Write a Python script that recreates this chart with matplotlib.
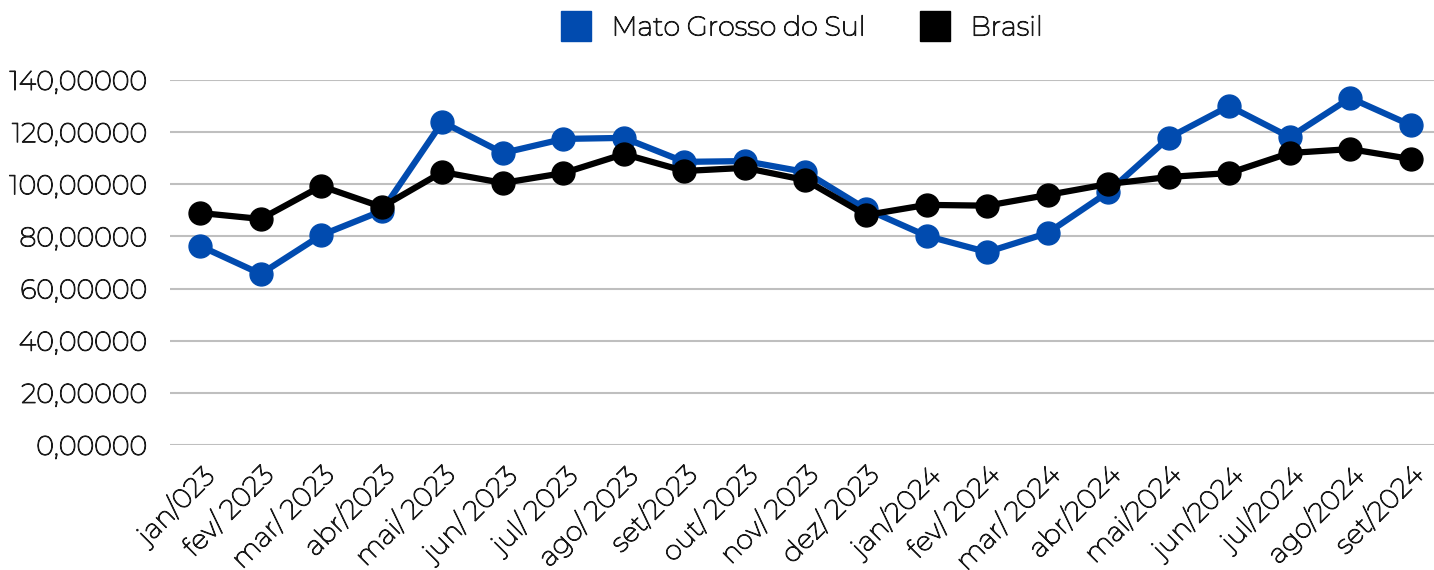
import matplotlib.pyplot as plt
import matplotlib.patheffects as pe
from matplotlib.ticker import FuncFormatter
from matplotlib.lines import Line2D

# Montserrat here is a variable font that renders thin, so thicken strokes a bit
plt.rcParams['font.family'] = ['Montserrat', 'Open Sans', 'DejaVu Sans']
engrossar = [pe.withStroke(linewidth=0.8, foreground='#1a1a1a')]

meses = ['jan/023', 'fev/ 2023', 'mar/ 2023', 'abr/2023', 'mai/ 2023', 'jun/ 2023',
         'jul/ 2023', 'ago/ 2023', 'set/2023', 'out/ 2023', 'nov/ 2023', 'dez/ 2023',
         'jan/2024', 'fev/ 2024', 'mar/ 2024', 'abr/2024', 'mai/2024', 'jun/2024',
         'jul/2024', 'ago/2024', 'set/2024']

ms = [76.3, 65.6, 80.5, 89.8, 123.9, 112.0, 117.4, 117.8, 108.6, 108.9, 104.7,
      90.5, 80.2, 74.0, 81.3, 97.0, 117.8, 130.0, 118.1, 133.1, 122.7]

brasil = [89.0, 86.7, 99.3, 91.3, 104.7, 100.5, 104.3, 111.6, 105.1, 106.3, 101.6,
          88.2, 92.1, 91.8, 95.9, 100.1, 102.8, 104.3, 112.0, 113.5, 109.7]

azul = '#014BAF'

fig = plt.figure(figsize=(14.34, 5.70), dpi=100)
ax = fig.add_axes([170 / 1434, 1 - 445 / 570, 1271 / 1434, 365 / 570])

x = list(range(len(meses)))
ax.plot(x, ms, color=azul, lw=4.5, marker='o', ms=16.5, label='Mato Grosso do Sul', zorder=3)
ax.plot(x, brasil, color='black', lw=4.5, marker='o', ms=16.5, label='Brasil', zorder=4)

ax.set_xlim(-0.5, len(meses) - 0.5)
ax.set_ylim(0, 140)
ax.set_yticks(range(0, 141, 20))
ax.yaxis.set_major_formatter(FuncFormatter(lambda v, p: f'{v:.5f}'.replace('.', ',')))
ax.grid(axis='y', color='#BFBFBF', lw=1.5)
ax.set_axisbelow(True)
for s in ax.spines.values():
    s.set_visible(False)
ax.tick_params(axis='both', length=0, labelsize=19.5, colors='#1a1a1a')
ax.tick_params(axis='y', pad=16)
ax.set_xticks(x)
ax.set_xticklabels(meses, rotation=45, ha='right', rotation_mode='anchor')
ax.tick_params(axis='x', pad=12)
for t in ax.get_xticklabels() + ax.get_yticklabels():
    t.set_path_effects(engrossar)

handles = [Line2D([], [], color=azul, marker='s', ls='', ms=22),
           Line2D([], [], color='black', marker='s', ls='', ms=22)]
leg = fig.legend(handles, ['Mato Grosso do Sul', 'Brasil'], loc='center',
                 bbox_to_anchor=(796 / 1434, 1 - 28 / 570), ncol=2, frameon=False,
                 fontsize=19.5, handletextpad=0.3, columnspacing=1.55)
for t in leg.get_texts():
    t.set_color('#1a1a1a')
    t.set_path_effects(engrossar)

fig.savefig('out.png', dpi=100)
